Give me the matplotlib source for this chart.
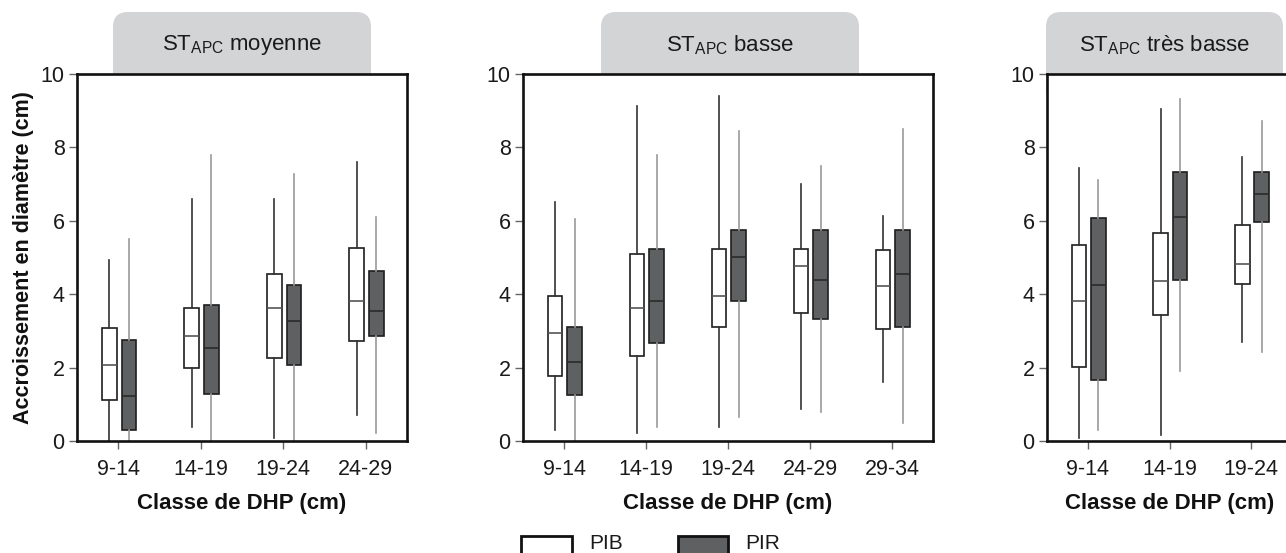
import matplotlib
matplotlib.use("Agg")
import matplotlib.pyplot as plt
from matplotlib.patches import FancyBboxPatch, Rectangle

plt.rcParams["font.family"] = ["Liberation Sans", "DejaVu Sans"]

# five-number summaries (whisker low, q1, median, q3, whisker high)
classes_moy = ["9-14", "14-19", "19-24", "24-29"]
moy_pib = [(0.0, 1.11, 2.07, 3.09, 4.93), (0.39, 1.99, 2.87, 3.62, 6.59),
           (0.09, 2.25, 3.62, 4.56, 6.59), (0.70, 2.73, 3.81, 5.27, 7.61)]
moy_pir = [(0.0, 0.31, 1.23, 2.74, 5.50), (0.0, 1.28, 2.53, 3.71, 7.79),
           (0.0, 2.08, 3.28, 4.25, 7.28), (0.21, 2.87, 3.54, 4.64, 6.11)]

classes_bas = ["9-14", "14-19", "19-24", "24-29", "29-34"]
bas_pib = [(0.31, 1.78, 2.93, 3.95, 6.52), (0.22, 2.31, 3.63, 5.10, 9.13),
           (0.39, 3.10, 3.96, 5.24, 9.39), (0.88, 3.50, 4.78, 5.24, 7.01),
           (1.60, 3.06, 4.22, 5.20, 6.12)]
bas_pir = [(0.0, 1.25, 2.14, 3.10, 6.04), (0.39, 2.67, 3.81, 5.24, 7.79),
           (0.65, 3.81, 5.01, 5.76, 8.46), (0.79, 3.32, 4.38, 5.76, 7.49),
           (0.48, 3.10, 4.56, 5.76, 8.51)]

classes_tb = ["9-14", "14-19", "19-24"]
tb_pib = [(0.08, 2.02, 3.82, 5.35, 7.43), (0.17, 3.42, 4.37, 5.67, 9.04),
          (2.70, 4.28, 4.82, 5.89, 7.74)]
tb_pir = [(0.30, 1.67, 4.25, 6.07, 7.11), (1.91, 4.40, 6.11, 7.33, 9.33),
          (2.42, 5.97, 6.74, 7.33, 8.73)]

titles = ["moyenne", "basse", "très basse"]
series_names = ["PIB", "PIR"]

W, H = 1286, 553
fig = plt.figure(figsize=(W / 100, H / 100), dpi=100)


def fx(x):
    return x / W


def fy(y):
    return 1 - y / H


def stats(rows):
    return [dict(whislo=r[0], q1=r[1], med=r[2], q3=r[3], whishi=r[4]) for r in rows]


# layout in pixels: axes left, right; header box left, right
panels = [
    (77, 407, 113, 371, classes_moy, moy_pib, moy_pir),
    (523, 933, 601, 859, classes_bas, bas_pib, bas_pir),
    (1047, 1292, 1046, 1283, classes_tb, tb_pib, tb_pir),
]
top, bottom = 74, 441

for i, (l, r, hl, hr, cls, pib, pir) in enumerate(panels):
    ax = fig.add_axes([fx(l), fy(bottom), (r - l) / W, (bottom - top) / H])
    pos = list(range(1, len(cls) + 1))
    ax.bxp(stats(pib), positions=[p - 0.11 for p in pos], widths=0.18,
           patch_artist=True, showcaps=False, showfliers=False,
           boxprops=dict(facecolor="white", edgecolor="#1e1e1e", linewidth=1.2),
           whiskerprops=dict(color="#333333", linewidth=1.2),
           medianprops=dict(color="#555555", linewidth=1.2))
    ax.bxp(stats(pir), positions=[p + 0.13 for p in pos], widths=0.18,
           patch_artist=True, showcaps=False, showfliers=False,
           boxprops=dict(facecolor="#5f6062", edgecolor="#1e1e1e", linewidth=1.2),
           whiskerprops=dict(color="#9a9a9a", linewidth=1.2),
           medianprops=dict(color="#2a2a2a", linewidth=1.2))
    ax.set_xlim(0.5, len(cls) + 0.5)
    ax.set_ylim(0, 10)
    ax.set_xticks(pos)
    ax.set_xticklabels(cls)
    ax.set_yticks([0, 2, 4, 6, 8, 10])
    ax.tick_params(direction="out", length=6, width=1, color="#666666",
                   labelsize=15.5, labelcolor="#1a1a1a", pad=3)
    ax.tick_params(axis="x", pad=7)
    for s in ax.spines.values():
        s.set_linewidth(1.9)
        s.set_color("#111111")
    if i == 2:
        ax.spines["right"].set_visible(False)
    ax.set_xlabel("Classe de DHP (cm)", fontsize=16, fontweight="bold",
                  labelpad=9, color="#111111")
    if i == 0:
        ax.set_ylabel("Accroissement en diamètre (cm)", fontsize=15.5,
                      fontweight="bold", labelpad=5, color="#111111")

    # grey header tab with rounded top corners
    tab = FancyBboxPatch((hl / 100, (H - top - 30) / 100), (hr - hl) / 100, (top + 30 - 12) / 100,
                         boxstyle="round,pad=0,rounding_size=0.15",
                         transform=fig.dpi_scale_trans, facecolor="#d3d4d6",
                         edgecolor="none", zorder=-1)
    fig.add_artist(tab)
    fig.text(fx((hl + hr) / 2), fy(45), r"ST$_{\mathregular{APC}}$ " + titles[i],
             ha="center", va="center", fontsize=16, color="#1a1a1a")

# legend along the bottom edge
for x0, x1, xt, fc, name in [(521, 572, 589, "white", series_names[0]),
                             (678, 728, 745, "#5f6062", series_names[1])]:
    fig.add_artist(Rectangle((fx(x0), fy(560)), (x1 - x0) / W, 24 / H,
                             transform=fig.transFigure, facecolor=fc,
                             edgecolor="#111111", linewidth=2))
    fig.text(fx(xt), fy(553), name, ha="left", va="bottom", fontsize=15,
             color="#1a1a1a")

fig.savefig("out.png", dpi=100)
